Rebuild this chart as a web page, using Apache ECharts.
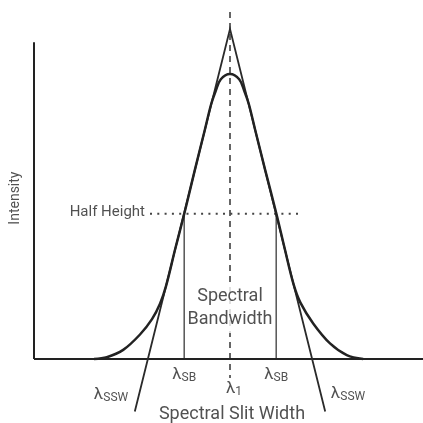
<!DOCTYPE html>
<html>
<head>
<meta charset="utf-8">
<script src="https://cdn.jsdelivr.net/npm/echarts@6/dist/echarts.min.js"></script>
<style>
html,body{margin:0;padding:0;background:#fff;}
#chart{width:423px;height:423px;}
</style>
</head>
<body>
<div id="chart"></div>
<script>
// ---- data (wavelength offset from λ1, intensity with peak = 100) ----
const lambda1 = 0;
const lambdaSB = [-11.45, 11.55];          // half-height crossings
const lambdaSSW = [-20.5, 20.5];           // triangle base crossings
const halfHeight = 51;
const halfHeightDots = [-20, 17];
const intensityAxisTop = 111.2;
const centerLineRange = [121.8, -6.7];
const slitTriangle = [[-23.8, -18.4], [0, 115.8], [23.8, -18.4]];
const bandCurveX = [-34, -30.8, -26.7, -22.5, -19.5, -17.5, -16.0, -13.7, -11.4, -8.8, -6.3, -4.7, -3.6, -2.3, 0,
                    2.3, 3.6, 4.7, 6.3, 8.8, 11.6, 13.7, 15.9, 17.6, 20.8, 25, 29.2, 33.3];
const bandCurveY = [0, 0.6, 3.2, 8.6, 14.0, 19.4, 25.6, 38.6, 51.2, 66.3, 80.4, 89.5, 94.0, 98.2, 100,
                    98.2, 94.0, 89.5, 80.4, 66.3, 51.0, 38.6, 26.2, 19.8, 12.5, 5.5, 1.4, 0];
const xRange = [-49, 48];
const yRange = [-22, 126];

const FONT = 'Roboto, "Liberation Sans", sans-serif';
const DARK = '#222';
const TEXT = '#262626';

const curveData = bandCurveX.map((x, i) => [x, bandCurveY[i]]);

function lineSeries(data, style, extra) {
  return Object.assign({
    type: 'line', data: data, symbol: 'none', clip: false, silent: true,
    lineStyle: Object.assign({ color: DARK, width: 2 }, style),
    animation: false
  }, extra || {});
}

const lamRich = {
  l: { fontSize: 17, fontFamily: FONT, color: TEXT, verticalAlign: 'top', lineHeight: 17 },
  s: { fontSize: 12, fontFamily: FONT, color: TEXT, verticalAlign: 'bottom', lineHeight: 13, padding: [10, 0, 0, 0] }
};

const labelItems = [
  { value: [xRange[0], intensityAxisTop / 2], text: 'Intensity', label: { rotate: 90, fontSize: 14, offset: [2.5, -19] } },
  { value: [halfHeightDots[0], halfHeight], text: 'Half Height', label: { position: 'left', align: 'right', distance: 5, fontSize: 15, offset: [0, -1] } },
  { value: [lambda1, 0], text: 'Spectral\nBandwidth', label: { fontSize: 18, lineHeight: 23, offset: [0, -51], backgroundColor: '#fff', padding: [2, 0] } },
  { value: [lambdaSB[0], 0], text: '{l|λ}{s|SB}', label: { rich: lamRich, offset: [0, 16] } },
  { value: [lambdaSB[1], 0], text: '{l|λ}{s|SB}', label: { rich: lamRich, offset: [0, 16] } },
  { value: [lambda1, 0], text: '{l|λ}{s|1}', label: { rich: lamRich, offset: [4, 30] } },
  { value: [lambdaSSW[0], 0], text: '{l|λ}{s|SSW}', label: { rich: lamRich, offset: [-37, 36] } },
  { value: [lambdaSSW[1], 0], text: '{l|λ}{s|SSW}', label: { rich: lamRich, offset: [36, 35] } },
  { value: [lambda1, 0], text: 'Spectral Slit Width', label: { fontSize: 18, offset: [2, 55] } }
];

const option = {
  backgroundColor: '#fff',
  animation: false,
  grid: { left: 34, right: 1, top: 0, bottom: 1.3 },
  xAxis: { type: 'value', min: xRange[0], max: xRange[1], show: false },
  yAxis: { type: 'value', min: yRange[0], max: yRange[1], show: false },
  series: [
    lineSeries([[lambda1, centerLineRange[0]], [lambda1, centerLineRange[1]]], { width: 1.5, type: [6, 5], color: '#333' }, { z: 1 }),
    lineSeries([[halfHeightDots[0], halfHeight], [halfHeightDots[1], halfHeight]], { width: 2, type: [2, 5.3], color: '#444' }, { z: 1 }),
    lineSeries([[lambdaSB[0], 0], [lambdaSB[0], halfHeight]], { width: 1.5, color: '#555' }, { z: 2 }),
    lineSeries([[lambdaSB[1], 0], [lambdaSB[1], halfHeight]], { width: 1.5, color: '#555' }, { z: 2 }),
    lineSeries([[xRange[0], 0], [xRange[0], intensityAxisTop]], { width: 2 }, { z: 3 }),
    lineSeries([[xRange[0], 0], [xRange[1] + 0.5, 0]], { width: 2 }, { z: 3 }),
    lineSeries(slitTriangle, { width: 1.8, color: '#2a2a2a', join: 'miter' }, { z: 4 }),
    lineSeries(curveData, { width: 2.5 }, { z: 5, smooth: 0.35 }),
    {
      type: 'scatter', symbolSize: 0, clip: false, silent: true, z: 10,
      data: labelItems.map(d => ({
        value: d.value,
        label: Object.assign({
          show: true, position: 'inside', formatter: d.text,
          color: TEXT, fontFamily: FONT, align: 'center', verticalAlign: 'middle'
        }, d.label)
      }))
    }
  ]
};

const chart = echarts.init(document.getElementById('chart'), null, { renderer: 'canvas' });
chart.setOption(option);
</script>
</body>
</html>
